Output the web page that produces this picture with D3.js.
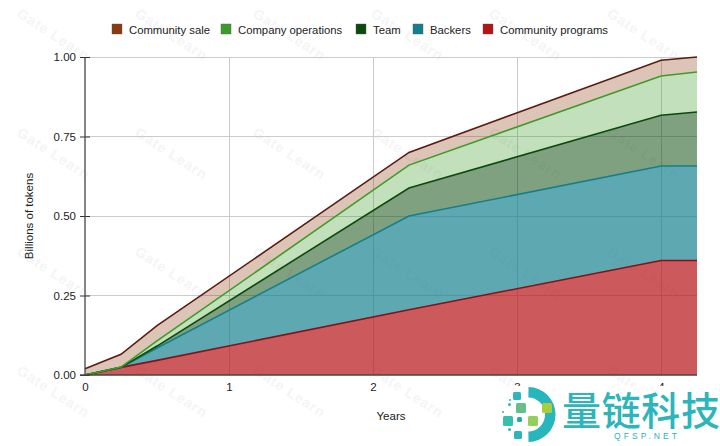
<!DOCTYPE html>
<html><head><meta charset="utf-8">
<script src="https://cdnjs.cloudflare.com/ajax/libs/d3/7.8.5/d3.min.js"></script>
<style>html,body{margin:0;padding:0;background:#fff}svg{display:block}text{font-family:"Liberation Sans",Arial,sans-serif;fill:#222}</style>
</head><body><svg id="c" width="720" height="446"></svg>
<script>
const years = [0, 0.25, 0.5, 2.25, 4, 4.25];
const communityPrograms = [0, 0.024, 0.046, 0.205, 0.36, 0.36];
const backers = [0, 0, 0.039, 0.295, 0.297, 0.297];
const team = [0, 0, 0.006, 0.088, 0.16, 0.17];
const companyOperations = [0, 0.001, 0.016, 0.072, 0.123, 0.126];
const communitySale = [0.02, 0.04, 0.048, 0.04, 0.05, 0.047];
const yTicks = [0, 0.25, 0.5, 0.75, 1];
const xTicks = [0, 1, 2, 3, 4];
const legendOrder = ["Community sale", "Company operations", "Team", "Backers", "Community programs"];
const stackOrder = ["Community programs", "Backers", "Team", "Company operations", "Community sale"];
const seriesValues = {"Community programs": communityPrograms, "Backers": backers, "Team": team, "Company operations": companyOperations, "Community sale": communitySale};
const colors = {"Community sale": "#8a3a10", "Company operations": "#3d9c28", "Team": "#0c4a0c", "Backers": "#12808c", "Community programs": "#b61316"};
const lineColors = {"Community sale": "#5e1a10", "Company operations": "#3d9c28", "Team": "#0c4a0c", "Backers": "#12808c", "Community programs": "#8a1015"};
const opacities = {"Community sale": 0.3, "Company operations": 0.31, "Team": 0.52, "Backers": 0.68, "Community programs": 0.7};

const svg = d3.select("#c");
const x = d3.scaleLinear().domain([0, 4.25]).range([85, 697]);
const y = d3.scaleLinear().domain([0, 1]).range([375, 57]);

// watermark
const wmX = d3.range(0, 6), wmY = d3.range(0, 4);
const wm = svg.append("g");
wmY.forEach(r => wmX.forEach(c => {
  wm.append("text").text("Gate Learn")
    .attr("transform", `translate(${16 + c * 118},${16 + r * 119}) rotate(33)`)
    .attr("font-size", 14).attr("letter-spacing", 1).attr("font-weight", "bold").style("fill", "#f5f5f5");
}));

// grid
const grid = svg.append("g").attr("stroke", "#cbcbcb").attr("stroke-width", 1).attr("shape-rendering", "crispEdges");
grid.selectAll(".h").data(yTicks.slice(1)).join("line").attr("class", "h").attr("x1", x(0)).attr("x2", x(4.25)).attr("y1", d => y(d)).attr("y2", d => y(d));
grid.selectAll(".v").data(xTicks.slice(1)).join("line").attr("class", "v").attr("y1", y(1)).attr("y2", y(0)).attr("x1", d => x(d)).attr("x2", d => x(d));

// stacked areas
const rows = years.map((t, i) => { const o = {t}; stackOrder.forEach(k => o[k] = seriesValues[k][i]); return o; });
const layers = d3.stack().keys(stackOrder)(rows);
const areaGen = d3.area().x(d => x(d.data.t)).y0(d => y(d[0])).y1(d => y(d[1]));
const topLine = d3.line().x(d => x(d.data.t)).y(d => y(d[1]));
svg.append("g").selectAll("path").data(layers).join("path").attr("d", areaGen)
  .attr("fill", d => colors[d.key]).attr("fill-opacity", d => opacities[d.key]);
svg.append("g").selectAll("path").data(layers).join("path").attr("d", topLine)
  .attr("fill", "none").attr("stroke", d => lineColors[d.key]).attr("stroke-width", 1.6);

// axes
const yAxis = d3.axisLeft(y).tickValues(yTicks).tickFormat(d3.format(".2f")).tickSize(6);
const gy = svg.append("g").attr("transform", `translate(${x(0)},0)`).call(yAxis);
gy.selectAll("text").attr("font-size", 11.5).attr("x", -9).style("font-family", '"Liberation Sans"');
gy.select(".domain").remove();
gy.selectAll(".tick line").attr("x1", -5).attr("x2", 5).attr("stroke", "#333");
svg.append("line").attr("x1", x(0)).attr("x2", x(0)).attr("y1", y(1)).attr("y2", y(0)).attr("stroke", "#444").attr("stroke-width", 1.3);
svg.append("line").attr("x1", x(0) - 5).attr("x2", x(4.25)).attr("y1", y(0)).attr("y2", y(0)).attr("stroke", "#444").attr("stroke-width", 1.3);

const xAxis = d3.axisBottom(x).tickValues(xTicks).tickFormat(d3.format("d")).tickSize(0);
const gx = svg.append("g").attr("transform", `translate(0,${y(0)})`).call(xAxis);
gx.select(".domain").remove();
gx.selectAll("text").attr("font-size", 11.5).attr("y", 8).style("font-family", '"Liberation Sans"');

svg.append("text").text("Years").attr("x", 391).attr("y", 420).attr("text-anchor", "middle").attr("font-size", 11.5);
svg.append("text").text("Billions of tokens").attr("transform", "translate(33,216) rotate(-90)").attr("text-anchor", "middle").attr("font-size", 11.5);

// legend
const legendX = {"Community sale": 112, "Company operations": 221, "Team": 356, "Backers": 413, "Community programs": 483};
const lg = svg.append("g").selectAll("g").data(legendOrder).join("g").attr("transform", d => `translate(${legendX[d]},24)`);
lg.append("rect").attr("width", 10).attr("height", 10).attr("fill", d => colors[d]).attr("stroke", "#555").attr("stroke-width", 0.4);
lg.append("text").text(d => d).attr("x", 17).attr("y", 9.5).attr("font-size", 11.3);

// logo overlay
const logo = svg.append("g");
logo.append("rect").attr("x", 500).attr("y", 386).attr("width", 220).attr("height", 60).attr("fill", "#fff");
logo.append("path").attr("transform", "translate(528,414.5)")
  .attr("d", d3.arc().innerRadius(17).outerRadius(27.5).startAngle(0.02).endAngle(Math.PI - 0.02)()).attr("fill", "#27b6bd");
const blocks = [[513,392,8,"#2fb4bc"],[516,403,10,"#63c08a"],[542,403,10,"#a7cf3d"],[503,416,10,"#35bfae"],[528,416,10,"#93cf59"],[517,417,5,"#27a6b4"],[514,431,8,"#2fb4bc"],[508,428,3,"#2fb4bc"],[502,411,2,"#2fb4bc"],[509,399,2,"#2fb4bc"],[508,403,3,"#2fb4bc"]];
logo.selectAll("rect.b").data(blocks).join("rect").attr("class", "b").attr("x", d => d[0]).attr("y", d => d[1]).attr("width", d => d[2]).attr("height", d => d[2]).attr("rx", 1.5).attr("fill", d => d[3]);
logo.append("text").text("量链科技").attr("x", 562).attr("y", 425).attr("font-size", 39).attr("textLength", 158)
  .style("font-family", '"Noto Sans CJK SC"').style("fill", "#2cb5bb").attr("font-weight", 500);
logo.append("text").text("QFSP.NET").attr("x", 614).attr("y", 439).attr("font-size", 8.5).attr("textLength", 63).style("fill", "#2cb5bb");
</script></body></html>
